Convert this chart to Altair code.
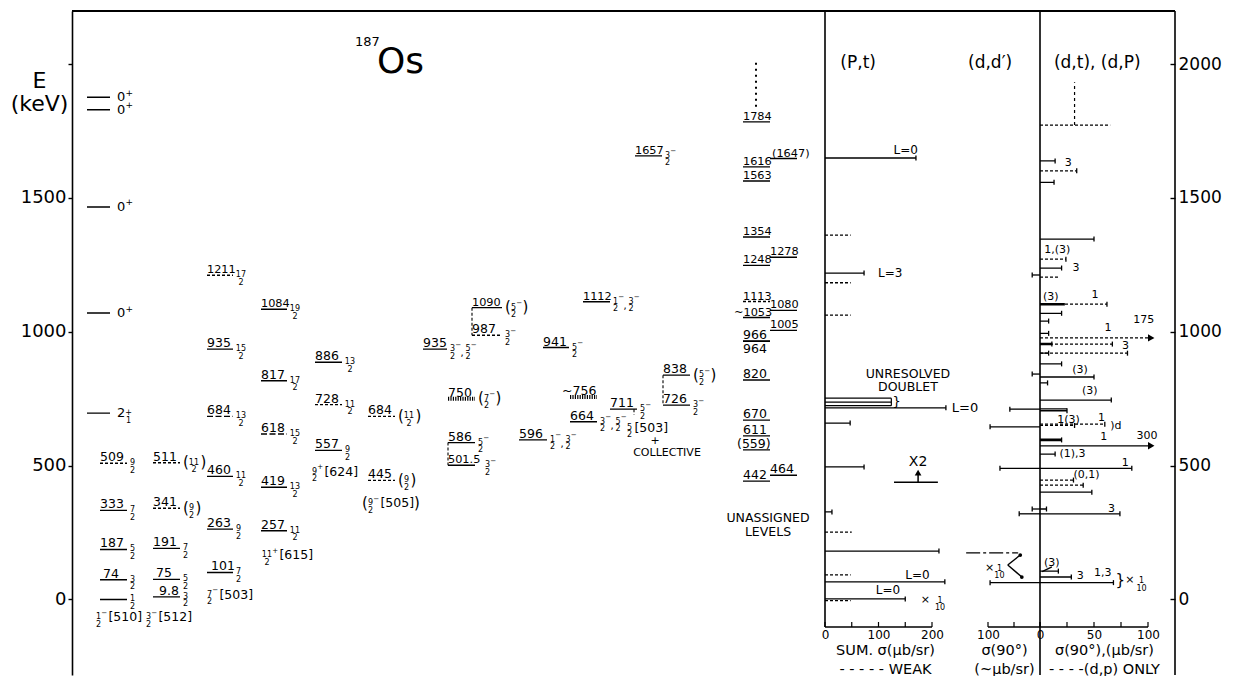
import re
import altair as alt
import pandas as pd

# ============================ DATA ============================
# Level scheme of 187Os (keV), grouped in bands (columns of the scheme)
level_energy = [1876, 1829, 1466, 1070, 696,
                509, 333, 187, 74, 0,
                511, 341, 191, 75, 9.8,
                1211, 935, 684, 460, 263, 101,
                1084, 817, 618, 419, 257,
                886, 728, 557,
                684, 445,
                935,
                750, 586, 501.5,
                1090, 987,
                596, 941, 756, 664, 1112, 711, 1657, 838, 726,
                442, 559, 611, 670, 820, 964, 966, 1053, 1113, 1248, 1354, 1563, 1616, 1784,
                464, 1005, 1080, 1278, 1647]
level_band = ([0] * 5 + [1] * 5 + [2] * 5 + [3] * 6 + [4] * 5 + [5] * 3 + [6] * 2 + [7]
              + [8] * 3 + [9] * 2 + [10, 11, 12, 12, 13, 14, 15, 16, 16] + [17] * 14 + [18] * 5)
level_style = (["s"] * 5 + ["d", "s", "s", "s", "s"] + ["d", "d", "s", "s", "s"]
               + ["d", "s", "l", "s", "s", "s"] + ["s", "s", "l", "s", "s"] + ["s", "d", "s"]
               + ["d", "d"] + ["s"] + ["h", "s", "s"] + ["s", "d"]
               + ["s", "s", "h", "s", "s", "s", "s", "s", "s"]
               + ["s"] * 8 + ["d"] + ["s"] * 5 + ["s"] * 5)
level_text = ([""] * 5 + ["509", "333", "187", "74", ""] + ["511", "341", "191", "75", "9.8"]
              + ["1211", "935", "684", "460", "263", "101"] + ["1084", "817", "618", "419", "257"]
              + ["886", "728", "557"] + ["684", "445"] + ["935"] + ["750", "586", "501.5"]
              + ["1090", "987"]
              + ["596", "941", "~756", "664", "1112", "711", "1657", "838", "726"]
              + ["442", "(559)", "611", "670", "820", "964", "966", "~1053", "1113", "1248",
                 "1354", "1563", "1616", "1784"]
              + ["464", "1005", "1080", "1278", "(1647)"])
level_spin = (["0+", "0+", "0+", "0+", "2+1"] + ["9/2", "7/2", "5/2", "3/2", "1/2"]
              + ["(11/2)", "(9/2)", "7/2", "5/2", "3/2"]
              + ["17/2", "15/2", "13/2", "11/2", "9/2", "7/2"]
              + ["19/2", "17/2", "15/2", "13/2", "11/2"] + ["13/2", "11/2", "9/2"]
              + ["(11/2)", "(9/2)"] + ["3/2-,5/2-"] + ["(7/2-)", "5/2-", "3/2-"]
              + ["(5/2-)", "3/2-"]
              + ["1/2-,3/2-", "5/2-", "", "3/2-,5/2-", "1/2-,3/2-", "5/2-", "3/2-", "(5/2-)", "3/2-"]
              + [""] * 14 + [""] * 5)

nilsson_text = ["1/2-[510]", "3/2-[512]", "7/2-[503]", "11/2+[615]", "9/2+[624]",
                "(9/2-[505])", "5/2[503]"]
nilsson_energy = [-66, -66, 17, 166, 477, 360, 642]

# (p,t) summed cross sections (ub/sr)
pt_energy = [1649, 1361, 1219, 1183, 1062, 716, 659, 495, 327, 252, 181, 92, 66, 2, -4]
pt_value = [170, 48, 73, 48, 48, 226, 47, 73, 13, 50, 213, 48, 224, 150, 48]
pt_weak = [0, 1, 0, 1, 1, 0, 0, 0, 0, 1, 0, 1, 0, 0, 1]
doublet_energy = [752, 737, 724]
doublet_value = [124, 124, 124]

# (d,d') cross sections at 90 deg
dd_energy = [1212, 842, 711, 645, 490, 338, 320, 63]
dd_value = [15, 15, 58, 96, 77, 15, 40, 96]
dd_weak_energy = [174]
dd_weak_from = [142]
dd_weak_to = [42]

# (d,t), (d,p) cross sections at 90 deg
dt_energy = [1772, 1638, 1601, 1558, 1346, 1271, 1238, 1204, 1103, 1103, 1069, 1040, 994,
             977, 954, 954, 920, 920, 880, 831, 809, 745, 712, 705, 655, 650, 596, 574,
             543, 490, 446, 427, 401, 338, 320, 106, 84, 63]
dt_value = [65, 14, 34, 13, 50, 24, 20, 17, 62, 23, 20, 8, 8,
            175, 67, 11, 81, 8, 20, 50, 7, 66, 25, 25, 60, 32, 20, 300,
            14, 85, 31, 40, 48, 6, 74, 17, 29, 68]
dt_style = ["d", "s", "d", "s", "s", "d", "s", "d", "d", "t", "s", "s", "s",
            "d", "d", "t", "d", "s", "s", "s", "s", "s", "s", "s", "d", "d", "t", "s",
            "s", "s", "d", "d", "s", "s", "s", "s", "s", "s"]
dt_end = ["", "cap", "cap", "cap", "cap", "cap", "cap", "", "cap", "", "cap", "cap", "cap",
          "arrow", "cap", "cap", "cap", "cap", "cap", "cap", "cap", "cap", "", "cap", "cap", "cap", "cap", "arrow",
          "cap", "cap", "cap", "cap", "cap", "cap", "cap", "cap", "cap", "cap"]

energy_ticks = [0, 500, 1000, 1500, 2000]
pt_ticks = [0, 50, 100, 150, 200]
dd_ticks = [0, 50, 100]
dt_ticks = [0, 25, 50, 75, 100]

# ============================ LAYOUT ============================
H = 664
E_MIN, E_MAX = -282, 2198
KPP = (E_MAX - E_MIN) / H          # keV per pixel
WA, WB, WC, WD = 753, 107, 52, 135
AXIS_Y = 616                        # pixel row of the sub-panel x axes
FONT = "DejaVu Sans"


def up(px):
    return px * KPP


band_x = {0: (15, 38), 1: (28, 55), 2: (81, 108), 3: (135, 161), 4: (189, 215),
          5: (243, 270), 6: (296, 323), 7: (351, 375), 8: (376, 403), 9: (400, 430),
          10: (447, 475), 11: (471, 497), 12: (498, 525), 13: (511, 538), 14: (538, 565),
          15: (563, 590), 16: (591, 618), 17: (671, 698), 18: (698, 725)}
label_dx = {"~756": -8, "~1053": -9, "(559)": -6, "(1647)": 2, "74": 3, "75": 3, "9.8": 6, "101": 4}
spin_gap = {0: 7}
spin_extra = {"501.5": 7}
nilsson_x = [24, 74, 135, 190, 240, 290, 555]
brackets = [(376, 586, 501.5), (400, 1090, 987), (591, 838, 726), (562, 711, 690)]

ann_A = [("187", 283, 2083, 13, "left"), ("Os", 305, 2008, 36, "left"),
         ("UNASSIGNED", 696, 304, 12.5, "center"), ("LEVELS", 696, 252, 12.5, "center"),
         ("+", 583, 591, 11, "center"), ("COLLECTIVE", 595, 546, 11, "center")]
ann_B = [("(P,t)", 62, 2004, 17, "center"), ("L=0", 151, 1678, 12, "center"),
         ("L=3", 99, 1219, 12, "left"), ("UNRESOLVED", 155, 842, 12.5, "center"),
         ("DOUBLET", 155, 794, 12.5, "center"), ("}", 126, 738, 13, "left"),
         ("L=0", 237, 716, 13, "left"), ("X2", 174, 513, 14, "center"),
         ("L=0", 150, 92, 12, "left"), ("L=0", 95, 35, 12, "left"), ("×", 179, -2, 11, "left")]
frac_B = [("1\n10", 215, -4)]
ann_C = [("(d,d′)", 96, 2004, 17, "center"), ("×", 106, 118, 11, "left")]
frac_C = [("1\n10", 78, 114)]
ann_D = [("(d,t),  (d,P)", 53, 2004, 17, "center"), ("3", 23, 1632, 11, "left"),
         ("1,(3)", 16, 1305, 11, "center"), ("3", 30, 1238, 11, "left"),
         ("(3)", 10, 1130, 11, "center"), ("1", 51, 1137, 11, "center"),
         ("1", 63, 1014, 11, "center"), ("175", 96, 1044, 11, "center"),
         ("3", 76, 946, 11, "left"), ("(3)", 37, 859, 11, "center"),
         ("(3)", 46, 777, 11, "center"), ("1(3)", 16, 670, 11, "left"),
         ("1", 57, 677, 11, "center"), (")d", 65, 648, 11, "left"),
         ("1", 59, 606, 11, "center"), ("300", 99, 610, 11, "center"),
         ("(1),3", 18, 543, 11, "left"), ("1", 79, 510, 11, "center"),
         ("(0,1)", 31, 466, 11, "left"), ("3", 63, 338, 11, "left"),
         ("(3)", 11, 136, 11, "center"), ("3", 34, 88, 11, "left"),
         ("1,3", 58, 99, 11, "center"), ("}", 70, 74, 15, "left"), ("×", 79, 72, 11, "left")]
frac_D = [("1\n10", 94, 68)]

FS_FRAC = 8.0


def render(s, x, E):
    out = []
    cur = x
    for tok in re.findall(r"\d+/\d+[+-]?|\[\d+\]|[(),]|\d\+\d?", s):
        if "/" in tok:
            sign = tok[-1] if tok[-1] in "+-" else ""
            num, den = tok.rstrip("+-").split("/")
            w = max(len(num), len(den)) * 0.62 * FS_FRAC
            out.append(("frac", "center", cur + w / 2, E, num + "\n" + den, FS_FRAC))
            cur += w
            if sign:
                out.append(("txt", "left", cur + 0.3, E + up(4.5), "+" if sign == "+" else "−", 7))
                cur += 5
            cur += 1.5
        elif tok in "()":
            out.append(("txt", "left", cur, E + up(0.5), tok, 15))
            cur += 6
        elif tok == ",":
            out.append(("txt", "left", cur - 1, E - up(4), ",", 10))
            cur += 4
        elif tok.startswith("["):
            out.append(("txt", "left", cur + 1, E, tok, 12.5))
            cur += 1 + 12.5 * (0.39 * 2 + 0.636 * (len(tok) - 2))
        else:
            out.append(("txt", "left", cur, E, tok[0], 13))
            cur += 8.5
            if len(tok) == 3:
                out.append(("frac", "center", cur + 3, E, "+\n" + tok[2], FS_FRAC))
                cur += 7
            else:
                out.append(("txt", "left", cur, E + up(4.5), "+", 9))
                cur += 6
    return out


ys = alt.Scale(domain=[E_MIN, E_MAX], nice=False, zero=False)
dash_scale = alt.Scale(domain=["s", "d", "l", "h", "t"],
                       range=[[1, 0], [3, 2], [6, 2.5], [1.2, 1.2], [1, 0]])
ONE = pd.DataFrame({"k": [0]})


def bottom_axis(values, title, title_x):
    return alt.Axis(orient="bottom", offset=-(H - AXIS_Y), values=values, ticks=False, domain=False,
                    grid=False, labelFontSize=12, labelPadding=2, labelFlush=False, labelColor="black",
                    format="d", title=title, titleFontSize=14.5, titleFontWeight="normal",
                    titleColor="black", titleX=title_x, titleY=16, titleAlign="center",
                    titleBaseline="top", titleLineHeight=19)


class Panel:
    """Helper that gives every layer of a panel the same scales and axes."""

    def __init__(self, xs, ax_x, ax_y):
        self.xs, self.ax_x, self.ax_y = xs, ax_x, ax_y
        self.layers = []

    def X(self, f):
        return alt.X(f, scale=self.xs, axis=self.ax_x)

    def Y(self, f):
        return alt.Y(f, scale=ys, axis=self.ax_y)

    def add(self, ch):
        self.layers.append(ch)

    def texts(self, rows):
        df = pd.DataFrame(rows, columns=["kind", "al", "x", "E", "t", "fs"])
        for (kind, al), g in df.groupby(["kind", "al"]):
            props = dict(align=al, baseline="middle", color="black")
            if kind == "frac":
                props.update(lineBreak="\n", lineHeight=7.5)
            self.add(alt.Chart(g.reset_index(drop=True)).mark_text(**props).encode(
                x=self.X("x:Q"), y=self.Y("E:Q"), text="t:N",
                size=alt.Size("fs:Q", scale=None, legend=None)))

    def ticks(self, vals):
        self.add(alt.Chart(pd.DataFrame({"x": vals})).mark_rule(color="black", strokeWidth=1.2).encode(
            x=self.X("x:Q"), y=alt.value(AXIS_Y - 5), y2=alt.value(AXIS_Y)))

    def axis_line(self, a, b):
        self.add(alt.Chart(pd.DataFrame({"a": [a], "b": [b]})).mark_rule(color="black", strokeWidth=1.4).encode(
            x=self.X("a:Q"), x2="b:Q", y=alt.value(AXIS_Y)))

    def chart(self, w):
        return alt.layer(*self.layers).properties(width=w, height=H)


def ann_rows(ann, frac):
    rows = [("txt", a[4], a[1], a[2], a[0], a[3]) for a in ann]
    rows += [("frac", "center", f[1], f[2], f[0], FS_FRAC) for f in frac]
    return rows


# ------------------------- panel A: level scheme -------------------------
axisL = alt.Axis(orient="left", values=energy_ticks, format="d", grid=False,
                 labelExpr="datum.value == 2000 ? '' : datum.label",
                 tickSize=4, tickColor="black", tickWidth=1.4, domainColor="black", domainWidth=1.6,
                 labelFontSize=18, labelPadding=2, labelColor="black",
                 title=["E", "(keV)"], titleAngle=0, titleX=-33, titleY=59, titleAlign="center",
                 titleBaseline="top", titleFontSize=22, titleFontWeight="normal",
                 titleLineHeight=23, titleColor="black")
A = Panel(alt.Scale(domain=[0, WA], nice=False, zero=False), None, axisL)

lv = pd.DataFrame({"E": level_energy, "band": level_band, "style": level_style,
                   "label": level_text, "spin": level_spin})
lv["x0"] = [band_x[b][0] for b in lv.band]
lv["x1"] = [band_x[b][1] for b in lv.band]
lv["sw"] = [4.0 if s == "h" else 1.4 for s in lv["style"]]
A.add(alt.Chart(lv).mark_rule(color="black").encode(
    x=A.X("x0:Q"), x2="x1:Q", y=A.Y("E:Q"),
    strokeDash=alt.StrokeDash("style:N", scale=dash_scale, legend=None),
    size=alt.Size("sw:Q", scale=None, legend=None)))

lab = lv[lv.label != ""].copy()
lab["lx"] = [x0 + label_dx.get(t, 0) for x0, t in zip(lab.x0, lab.label)]
lab["ly"] = [E - up(12) if t == "964" else E + up(2) for E, t in zip(lab.E, lab.label)]
lab["fs"] = [12.5 if sum(c.isdigit() for c in t) <= 3 else 11.3 for t in lab.label]
A.add(alt.Chart(lab).mark_text(align="left", baseline="alphabetic", color="black").encode(
    x=A.X("lx:Q"), y=A.Y("ly:Q"), text="label:N", size=alt.Size("fs:Q", scale=None, legend=None)))

rowsA = []
for E, b, s, x1, t in zip(lv.E, lv.band, lv.spin, lv.x1, lv.label):
    if s:
        rowsA += render(s, x1 + spin_gap.get(b, 3) + spin_extra.get(t, 0), E)
for t, E, x in zip(nilsson_text, nilsson_energy, nilsson_x):
    rowsA += render(t, x, E)
rowsA += ann_rows(ann_A, [])
A.texts(rowsA)

br = pd.DataFrame(brackets, columns=["x", "e1", "e2"])
A.add(alt.Chart(br).mark_rule(color="black", strokeDash=[3, 2], strokeWidth=1.1).encode(
    x=A.X("x:Q"), y=A.Y("e1:Q"), y2="e2:Q"))
A.add(alt.Chart(pd.DataFrame({"x": [684], "e1": [1840], "e2": [2020]})).mark_rule(
    color="black", strokeDash=[2, 4], strokeWidth=2).encode(x=A.X("x:Q"), y=A.Y("e1:Q"), y2="e2:Q"))
A.add(alt.Chart(ONE).mark_rule(color="black", strokeWidth=2).encode(
    x=alt.value(0), x2=alt.value(WA + 350), y=alt.value(0)))
panelA = A.chart(WA)

# ------------------------- panel B: (p,t) -------------------------
B = Panel(alt.Scale(domain=[0, 200], nice=False, zero=False),
          bottom_axis([0, 100, 200], ["SUM. σ(μb/sr)", "- - - - - WEAK"], 60), None)
pt = pd.DataFrame({"E": pt_energy, "v": pt_value, "weak": pt_weak})
pt["z"] = 0
pt["style"] = ["d" if w else "s" for w in pt.weak]
pt["lo"] = pt.E - up(2.5)
pt["hi"] = pt.E + up(2.5)
B.add(alt.Chart(pt).mark_rule(color="black", strokeWidth=1.3).encode(
    x=B.X("z:Q"), x2="v:Q", y=B.Y("E:Q"),
    strokeDash=alt.StrokeDash("style:N", scale=dash_scale, legend=None)))
B.add(alt.Chart(pt[pt.weak == 0]).mark_rule(color="black", strokeWidth=1.3).encode(
    x=B.X("v:Q"), y=B.Y("lo:Q"), y2="hi:Q"))
db = pd.DataFrame({"E": doublet_energy, "v": doublet_value})
db["z"] = 0
B.add(alt.Chart(db).mark_rule(color="black", strokeWidth=1.2).encode(x=B.X("z:Q"), x2="v:Q", y=B.Y("E:Q")))
B.add(alt.Chart(pd.DataFrame({"v": [124], "e1": [min(doublet_energy)], "e2": [max(doublet_energy)]})).mark_rule(
    color="black", strokeWidth=1.2).encode(x=B.X("v:Q"), y=B.Y("e1:Q"), y2="e2:Q"))
B.add(alt.Chart(pd.DataFrame({"a": [129], "b": [211], "E": [438]})).mark_rule(color="black", strokeWidth=1.3).encode(
    x=B.X("a:Q"), x2="b:Q", y=B.Y("E:Q")))
B.add(alt.Chart(pd.DataFrame({"a": [174], "e1": [438], "e2": [472]})).mark_rule(color="black", strokeWidth=1.5).encode(
    x=B.X("a:Q"), y=B.Y("e1:Q"), y2="e2:Q"))
B.add(alt.Chart(pd.DataFrame({"a": [174], "E": [474]})).mark_point(
    shape="triangle-up", filled=True, color="black", size=45, opacity=1).encode(x=B.X("a:Q"), y=B.Y("E:Q")))
B.add(alt.Chart(ONE).mark_rule(color="black", strokeWidth=1.6).encode(
    x=alt.value(0), y=alt.value(0), y2=alt.value(AXIS_Y)))
B.axis_line(0, 200)
B.ticks(pt_ticks)
B.texts(ann_rows(ann_B, frac_B))
panelB = B.chart(WB)

# ------------------------- panel C: (d,d') -------------------------
C = Panel(alt.Scale(domain=[0, 100], nice=False, zero=False, reverse=True),
          bottom_axis([100, 0], ["σ(90°)", "(~μb/sr)"], 16), None)
dd = pd.DataFrame({"E": dd_energy, "v": dd_value})
dd["z"] = 0
dd["lo"] = dd.E - up(2.5)
dd["hi"] = dd.E + up(2.5)
C.add(alt.Chart(dd).mark_rule(color="black", strokeWidth=1.3).encode(x=C.X("z:Q"), x2="v:Q", y=C.Y("E:Q")))
C.add(alt.Chart(dd).mark_rule(color="black", strokeWidth=1.3).encode(x=C.X("v:Q"), y=C.Y("lo:Q"), y2="hi:Q"))
dw = pd.DataFrame({"E": dd_weak_energy, "a": dd_weak_from, "b": dd_weak_to})
C.add(alt.Chart(dw).mark_rule(color="black", strokeWidth=1.2, strokeDash=[14, 3, 3, 3]).encode(
    x=C.X("a:Q"), x2="b:Q", y=C.Y("E:Q")))
arr = pd.DataFrame({"a": [62, 62], "e1": [129, 129], "b": [38, 35], "e2": [166, 84]})
C.add(alt.Chart(arr).mark_rule(color="black", strokeWidth=1.4).encode(
    x=C.X("a:Q"), x2="b:Q", y=C.Y("e1:Q"), y2="e2:Q"))
C.add(alt.Chart(arr).mark_point(shape="circle", filled=True, color="black", size=14, opacity=1).encode(
    x=C.X("b:Q"), y=C.Y("e2:Q")))
C.axis_line(100, 0)
C.ticks(dd_ticks)
C.texts(ann_rows(ann_C, frac_C))
panelC = C.chart(WC)

# ------------------------- panel D: (d,t), (d,p) -------------------------
axisR = alt.Axis(orient="right", values=energy_ticks, format="d", grid=False, offset=-5,
                 domain=False, tickSize=5, tickColor="black", tickWidth=1.4,
                 labelFontSize=17, labelPadding=3, labelColor="black", title=None)
D = Panel(alt.Scale(domain=[0, 125], nice=False, zero=False),
          bottom_axis([50, 100], ["σ(90°),(μb/sr)", "- - - -(d,p) ONLY"], 64), axisR)
dt = pd.DataFrame({"E": dt_energy, "v": dt_value, "style": dt_style, "end": dt_end})
dt["z"] = 0
dt["vd"] = dt.v.clip(upper=103)
dt["sw"] = [2.6 if s == "t" else 1.3 for s in dt["style"]]
dt["lo"] = dt.E - up(2.5)
dt["hi"] = dt.E + up(2.5)
D.add(alt.Chart(dt).mark_rule(color="black").encode(
    x=D.X("z:Q"), x2="vd:Q", y=D.Y("E:Q"),
    strokeDash=alt.StrokeDash("style:N", scale=dash_scale, legend=None),
    size=alt.Size("sw:Q", scale=None, legend=None)))
D.add(alt.Chart(dt[dt.end == "cap"]).mark_rule(color="black", strokeWidth=1.3).encode(
    x=D.X("vd:Q"), y=D.Y("lo:Q"), y2="hi:Q"))
D.add(alt.Chart(dt[dt.end == "arrow"]).mark_point(
    shape="triangle-right", filled=True, color="black", size=55, opacity=1).encode(x=D.X("vd:Q"), y=D.Y("E:Q")))
top_d = dt[dt.end == ""].head(1)
D.add(alt.Chart(pd.DataFrame({"a": [32], "e1": [top_d.E.iloc[0]], "e2": [1932]})).mark_rule(
    color="black", strokeDash=[3, 3], strokeWidth=1.2).encode(x=D.X("a:Q"), y=D.Y("e1:Q"), y2="e2:Q"))
ptr = pd.DataFrame({"a": [11], "e1": [122], "b": [2], "e2": [104]})
D.add(alt.Chart(ptr).mark_rule(color="black", strokeWidth=1.3).encode(
    x=D.X("a:Q"), x2="b:Q", y=D.Y("e1:Q"), y2="e2:Q"))
D.add(alt.Chart(ONE).mark_rule(color="black", strokeWidth=1.6).encode(
    x=alt.value(0), y=alt.value(0), y2=alt.value(H)))
D.add(alt.Chart(ONE).mark_rule(color="black", strokeWidth=1.6).encode(
    x=alt.value(WD), y=alt.value(0), y2=alt.value(H)))
D.axis_line(0, 100)
D.ticks(dt_ticks)
D.texts(ann_rows(ann_D, frac_D))
panelD = D.chart(WD)

# ------------------------- assemble -------------------------
cd = alt.hconcat(panelC, panelD, spacing=0, bounds="flush").resolve_scale(x="independent", y="independent")
bcd = alt.hconcat(panelB, cd, spacing=56, bounds="flush").resolve_scale(x="independent", y="independent")
chart = alt.hconcat(panelA, bcd, spacing=0, bounds="flush").resolve_scale(
    x="independent", y="independent").properties(
    padding={"left": 10, "top": 10, "right": 5, "bottom": 0},
    background="white").configure(font=FONT).configure_view(strokeWidth=0)

chart.save("out.html", embed_options={"renderer": "svg", "actions": False})
